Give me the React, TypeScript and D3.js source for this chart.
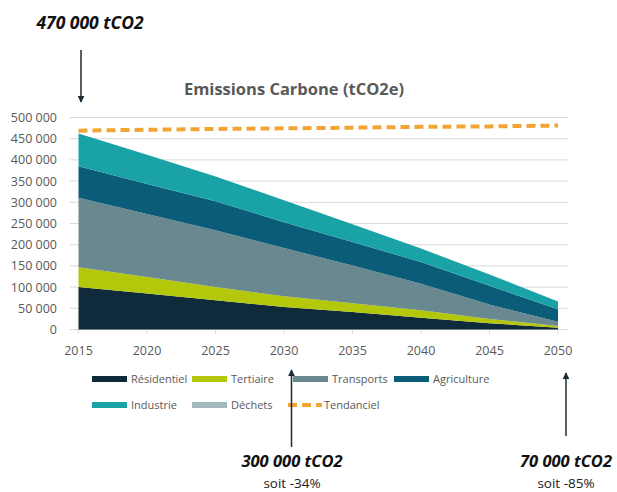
import React from "react";
import * as d3 from "d3";

const years = [2015, 2020, 2025, 2030, 2035, 2040, 2045, 2050];
const residentiel = [100000, 85000, 69000, 53000, 41000, 28000, 15000, 4000];
const tertiaire = [47000, 39000, 31500, 25500, 21000, 17500, 10000, 4000];
const transports = [164000, 148700, 133500, 113500, 89000, 62500, 34000, 10000];
const agriculture = [74000, 70300, 68700, 61000, 55600, 51000, 44000, 30000];
const industrie = [77000, 69000, 58300, 52000, 41400, 32000, 27000, 18000];
const dechets = [0, 0, 0, 0, 0, 0, 0, 0];
const tendanciel = [469000, 471000, 473000, 474500, 476000, 478000, 479000, 481000];
const yTicks = [0, 50000, 100000, 150000, 200000, 250000, 300000, 350000, 400000, 450000, 500000];

const seriesNames = ["Résidentiel", "Tertiaire", "Transports", "Agriculture", "Industrie", "Déchets"];
const seriesValues = [residentiel, tertiaire, transports, agriculture, industrie, dechets];
const colors = ["#0f2b3b", "#b3c80a", "#6a8890", "#0b5c78", "#1aa3a6", "#a3b8ba"];
const trendColor = "#f2a435";

const fmt = (v: number) => d3.format(",")(v).replace(/,/g, " ");

export default function App() {
  const W = 617, H = 492;
  const x = d3.scaleLinear().domain([2015, 2050]).range([78.5, 558]);
  const y = d3.scaleLinear().domain([0, 500000]).range([329.5, 117.5]);

  const table = years.map((yr, i) => {
    const row: any = { year: yr };
    seriesNames.forEach((n, k) => (row[n] = seriesValues[k][i]));
    return row;
  });
  const stacked = d3.stack().keys(seriesNames)(table as any);
  const area = d3
    .area<any>()
    .x((d) => x(d.data.year))
    .y0((d) => y(d[0]))
    .y1((d) => y(d[1]));
  const trendLine = d3
    .line<number>()
    .x((_, i) => x(years[i]))
    .y((d) => y(d));

  const grey = "#595959";
  const font = "'Open Sans', sans-serif";

  const legend = [
    { name: "Résidentiel", color: colors[0], x: 92, y: 379 },
    { name: "Tertiaire", color: colors[1], x: 192, y: 379 },
    { name: "Transports", color: colors[2], x: 293, y: 379 },
    { name: "Agriculture", color: colors[3], x: 394, y: 379 },
    { name: "Industrie", color: colors[4], x: 92, y: 405 },
    { name: "Déchets", color: colors[5], x: 192, y: 405 },
  ];

  return (
    <svg
      width={W}
      height={H}
      style={{ position: "absolute", left: 0, top: 0, background: "#fff" }}
      fontFamily={font}
    >
      <defs>
        <marker id="ah" viewBox="0 0 10 10" refX="9" refY="5" markerWidth="7" markerHeight="7" orient="auto-start-reverse" markerUnits="userSpaceOnUse">
          <path d="M0,0 L10,5 L0,10 z" fill="#1b2a33" />
        </marker>
      </defs>

      {/* gridlines */}
      {yTicks.map((t) => (
        <line key={t} x1={70} x2={568} y1={y(t)} y2={y(t)} stroke="#d9d9d9" strokeWidth={1} />
      ))}
      {years.map((yr) => (
        <line key={yr} x1={x(yr)} x2={x(yr)} y1={y(0)} y2={y(0) + 4} stroke="#d9d9d9" strokeWidth={1} />
      ))}

      {/* areas */}
      {stacked.map((s, i) => (
        <path key={s.key} d={area(s as any) || ""} fill={colors[i]} />
      ))}

      {/* trend */}
      <path
        d={trendLine(tendanciel) || ""}
        fill="none"
        stroke={trendColor}
        strokeWidth={4}
        strokeDasharray="9 5"
      />

      {/* y axis labels */}
      {yTicks.map((t) => (
        <text key={t} x={57} y={y(t) + 4.5} textAnchor="end" fontSize={12.5} fill={grey}>
          {fmt(t)}
        </text>
      ))}
      {/* x axis labels */}
      {years.map((yr) => (
        <text key={yr} x={x(yr)} y={355} textAnchor="middle" fontSize={12.5} fill={grey}>
          {yr}
        </text>
      ))}

      {/* title */}
      <text x={294} y={95} textAnchor="middle" fontSize={16.5} fontWeight="bold" fill={grey}>
        Emissions Carbone (tCO2e)
      </text>

      {/* legend */}
      {legend.map((l) => (
        <g key={l.name}>
          <rect x={l.x} y={l.y - 3} width={35} height={6} fill={l.color} />
          <text x={l.x + 39} y={l.y + 4} fontSize={11} fill={grey}>
            {l.name}
          </text>
        </g>
      ))}
      <line x1={288} x2={322} y1={405} y2={405} stroke={trendColor} strokeWidth={4} strokeDasharray="9 5" />
      <text x={324} y={409} fontSize={11} fill={grey}>
        Tendanciel
      </text>

      {/* annotations */}
      <text x={90} y={29} textAnchor="middle" fontSize={17.5} fontWeight="bold" fontStyle="italic" fill="#111">
        470 000 tCO2
      </text>
      <line x1={81} x2={81} y1={50} y2={102} stroke="#1b2a33" strokeWidth={1.5} markerEnd="url(#ah)" />

      <line x1={291.5} x2={291.5} y1={447} y2={370} stroke="#1b2a33" strokeWidth={1.5} markerEnd="url(#ah)" />
      <text x={292} y={467} textAnchor="middle" fontSize={16.5} fontWeight="bold" fontStyle="italic" fill="#111">
        300 000 tCO2
      </text>
      <text x={292} y={487.5} textAnchor="middle" fontSize={13.5} fill="#222">
        soit -34%
      </text>

      <line x1={566} x2={566} y1={436} y2={373} stroke="#1b2a33" strokeWidth={1.5} markerEnd="url(#ah)" />
      <text x={566} y={467} textAnchor="middle" fontSize={16.5} fontWeight="bold" fontStyle="italic" fill="#111">
        70 000 tCO2
      </text>
      <text x={566} y={487.5} textAnchor="middle" fontSize={13.5} fill="#222">
        soit -85%
      </text>
    </svg>
  );
}
